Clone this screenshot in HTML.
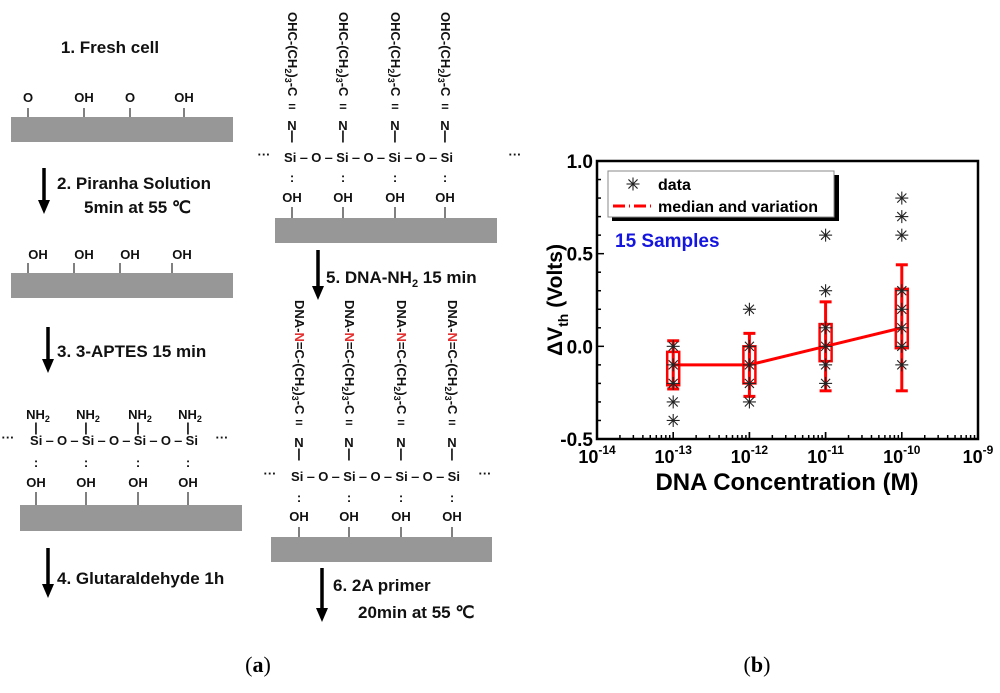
<!DOCTYPE html>
<html><head><meta charset="utf-8"><style>
html,body{margin:0;padding:0;background:#fff;}
svg{display:block;font-family:"Liberation Sans",sans-serif;}
.c{font-family:"Liberation Sans",sans-serif;font-weight:bold;font-size:13px;fill:#111;}
.s{font-family:"Liberation Sans",sans-serif;font-weight:bold;font-size:17px;fill:#111;}
</style></head><body>
<svg id="fig" width="1000" height="693" viewBox="0 0 1000 693">
<g id="schema"></g>
<g id="chart"></g>
<text x="258" y="672" text-anchor="middle" font-family="Liberation Serif,serif" font-size="22">(<tspan font-weight="bold">a</tspan>)</text>
<text x="757" y="672" text-anchor="middle" font-family="Liberation Serif,serif" font-size="22">(<tspan font-weight="bold">b</tspan>)</text>
</svg>
<script>
const NS='http://www.w3.org/2000/svg';
function mk(parent,tag,attrs,text){const e=document.createElementNS(NS,tag);for(const k in attrs)e.setAttribute(k,attrs[k]);if(text!==undefined)e.innerHTML=text;parent.appendChild(e);return e;}
const S=document.getElementById('schema');

// ---------- schematic ----------
function bar(x,y,w,h){const e=mk(S,'rect',{x:x,y:y,width:w,height:h,fill:'#979797'});

}
function tick(x,y1,y2){mk(S,'line',{x1:x,y1:y1,x2:x,y2:y2,stroke:'#000','stroke-width':1});}
function txt(x,y,t,cls,anchor){const e=mk(S,'text',{x:x,y:y,'class':cls||'c','text-anchor':anchor||'middle'},t);

return e;}
function arrow(x,y1,y2){const g=mk(S,'g',{});


mk(g,'line',{x1:x,y1:y1,x2:x,y2:y2-12,stroke:'#000','stroke-width':3.5});
mk(g,'path',{d:`M${x-6},${y2-14} L${x+6},${y2-14} L${x},${y2} Z`,fill:'#000'});}
function siRow(xs,y,x0,x1){
  txt(x0,y-3,'···');txt(x1,y-3,'···');
  mk(S,'text',{x:xs[0]-8,y:y,'class':'c'},'Si ‒ O ‒ Si ‒ O ‒ Si ‒ O ‒ Si').setAttribute('textLength',(xs[3]-xs[0]+16));
}
// step 1
txt(110,53,'1.  Fresh cell','s');
[[28,'O'],[84,'OH'],[130,'O'],[184,'OH']].forEach(p=>{txt(p[0],102,p[1]);tick(p[0]+0,108,117);});
bar(11,117,222,25);
arrow(44,168,214);
txt(57,189,'2.  Piranha Solution','s','start');
txt(84,213,'5min at 55 ℃','s','start');
[38,84,130,182].forEach(x=>{txt(x,259,'OH');tick(x-10,263,273);});
bar(11,273,222,25);
// step 3
arrow(48,327,373);
txt(57,357,'3.  3-APTES 15 min','s','start');
const xs3=[38,88,140,190];
xs3.forEach(x=>{txt(x,419,'NH<tspan font-size="9" dy="3">2</tspan>');txt(x-2,432,'|');txt(x-2,467,':');txt(x-2,487,'OH');tick(x-2,492,505);});
siRow(xs3,445,8,222);
bar(20,505,222,26);
arrow(48,548,598);
txt(57,584,'4.  Glutaraldehyde 1h','s','start');
// middle top
const xm1=[292,343,395,445];
xm1.forEach(x=>{
  const t=mk(S,'text',{'class':'c',transform:`translate(${x-4},12) rotate(90)`},'OHC-(CH<tspan font-size="9" dy="3">2</tspan><tspan dy="-3">)</tspan><tspan font-size="9" dy="3">3</tspan><tspan dy="-3">-C</tspan>');
  
  
  txt(x,111,'=');txt(x,130,'N');txt(x,140,'|');txt(x,182,':');txt(x,202,'OH');tick(x,207,218);
});
siRow(xm1,162,264,515);
bar(275,218,222,25);
arrow(318,250,300);
txt(326,283,'5.  DNA-NH<tspan font-size="11" dy="4">2</tspan><tspan dy="-4"> 15 min</tspan>','s','start');
const xm2=[299,349,401,452];
xm2.forEach(x=>{
  const t=mk(S,'text',{'class':'c',transform:`translate(${x-4},300) rotate(90)`},'DNA-<tspan fill="#e53030">N</tspan>=C-(CH<tspan font-size="9" dy="3">2</tspan><tspan dy="-3">)</tspan><tspan font-size="9" dy="3">3</tspan><tspan dy="-3">-C</tspan>');
  
  
  txt(x,427,'=');txt(x,447,'N');txt(x,458,'|');txt(x,502,':');txt(x,521,'OH');tick(x,527,537);
});
siRow(xm2,481,270,485);
bar(271,537,221,25);
arrow(322,568,622);
txt(333,591,'6.  2A primer','s','start');
txt(358,618,'20min at 55 ℃','s','start');

// ---------- chart ----------
const categories=[-13,-12,-11,-10]; // log10 concentration
const medians=[-0.1,-0.1,0,0.1];
const boxLow=[-0.21,-0.2,-0.08,-0.01];
const boxHigh=[-0.03,0,0.12,0.31];
const whiskLow=[-0.23,-0.27,-0.24,-0.24];
const whiskHigh=[0.03,0.07,0.24,0.44];
const pts13=[0,-0.1,-0.2,-0.3,-0.4];
const pts12=[0.2,0,-0.1,-0.2,-0.3];
const pts11=[0.6,0.3,0.1,0,-0.1,-0.2];
const pts10=[0.8,0.7,0.6,0.3,0.2,0.1,0,-0.1];
const xTicks=[-14,-13,-12,-11,-10,-9];
const yTicks=[1.0,0.5,0.0,-0.5];
const yTickLabels=['1.0','0.5','0.0','-0.5'];

const C=document.getElementById('chart');
const L=597,R=978,T=161,B=439;
const X=v=>L+(v-(-14))/5*(R-L);
const Y=v=>B-(v-(-0.5))/1.5*(B-T);
function cm(tag,a,t){return mk(C,tag,a,t);}

const frame=cm('rect',{x:L,y:T,width:R-L,height:B-T,fill:'none',stroke:'#000','stroke-width':2.5});


for(let i=0;i<=15;i++){const v=-0.5+i*0.1;const len=(i%5===0)?7:4;
 cm('line',{x1:L,y1:Y(v),x2:L+len,y2:Y(v),stroke:'#000','stroke-width':1.5});}
yTicks.forEach((v,i)=>{const t=cm('text',{x:L-4,y:Y(v)+7,'text-anchor':'end','font-weight':'bold','font-size':19},yTickLabels[i]);

});
for(let d=-14;d<-9;d++){for(let m=1;m<=10;m++){const v=d+Math.log10(m);const len=(m===1||m===10)?7:4;
 cm('line',{x1:X(v),y1:B,x2:X(v),y2:B-len,stroke:'#000','stroke-width':1.5});}}
xTicks.forEach(v=>{const t=cm('text',{x:X(v),y:463,'text-anchor':'middle','font-weight':'bold','font-size':18},'10<tspan font-size="12" dy="-9">'+v+'</tspan>');

});
const xt=cm('text',{x:787,y:490,'text-anchor':'middle','font-weight':'bold','font-size':24},'DNA Concentration (M)');


const yt=cm('text',{transform:'translate(562,300) rotate(-90)','text-anchor':'middle','font-weight':'bold','font-size':21},'ΔV<tspan font-size="14" dy="6">th</tspan><tspan dy="-6">  (Volts)</tspan>');



function star(x,y){const g=cm('g',{stroke:'#222','stroke-width':1.1});
 
 
 const r=6.5;
 [[r,0],[0,r],[r*0.7,r*0.7],[r*0.7,-r*0.7]].forEach(p=>mk(g,'line',{x1:x-p[0],y1:y-p[1],x2:x+p[0],y2:y+p[1]}));}
let d='';categories.forEach((c,i)=>{d+=(i?'L':'M')+X(c)+','+Y(medians[i]);});
const ml=cm('path',{d:d,fill:'none',stroke:'#f00','stroke-width':3});


categories.forEach((c,i)=>{
 const x=X(c);
 const w=cm('line',{x1:x,y1:Y(whiskLow[i]),x2:x,y2:Y(whiskHigh[i]),stroke:'#f00','stroke-width':3});
 
 
 [whiskLow[i],whiskHigh[i]].forEach(v=>cm('line',{x1:x-6,y1:Y(v),x2:x+6,y2:Y(v),stroke:'#f00','stroke-width':3}));
 const b=cm('rect',{x:x-6,y:Y(boxHigh[i]),width:12,height:Y(boxLow[i])-Y(boxHigh[i]),fill:'none',stroke:'#f00','stroke-width':2.5});
 
 
});
[pts13,pts12,pts11,pts10].forEach((arr,i)=>arr.forEach(v=>star(X(categories[i]),Y(v))));

cm('rect',{x:612,y:175,width:227,height:46,fill:'#000'});
const lg=cm('rect',{x:608,y:171,width:226,height:46,fill:'#fff',stroke:'#888','stroke-width':1});


star(633,184);
cm('text',{x:658,y:190,'font-weight':'bold','font-size':16},'data');
cm('line',{x1:613,y1:206,x2:653,y2:206,stroke:'#f00','stroke-width':3,'stroke-dasharray':'12,4,1,4'});
cm('text',{x:658,y:212,'font-weight':'bold','font-size':16},'median and variation');
const sm=cm('text',{x:615,y:247,'font-weight':'bold','font-size':19,fill:'#1515e0'},'15 Samples');


</script>
</body></html>
